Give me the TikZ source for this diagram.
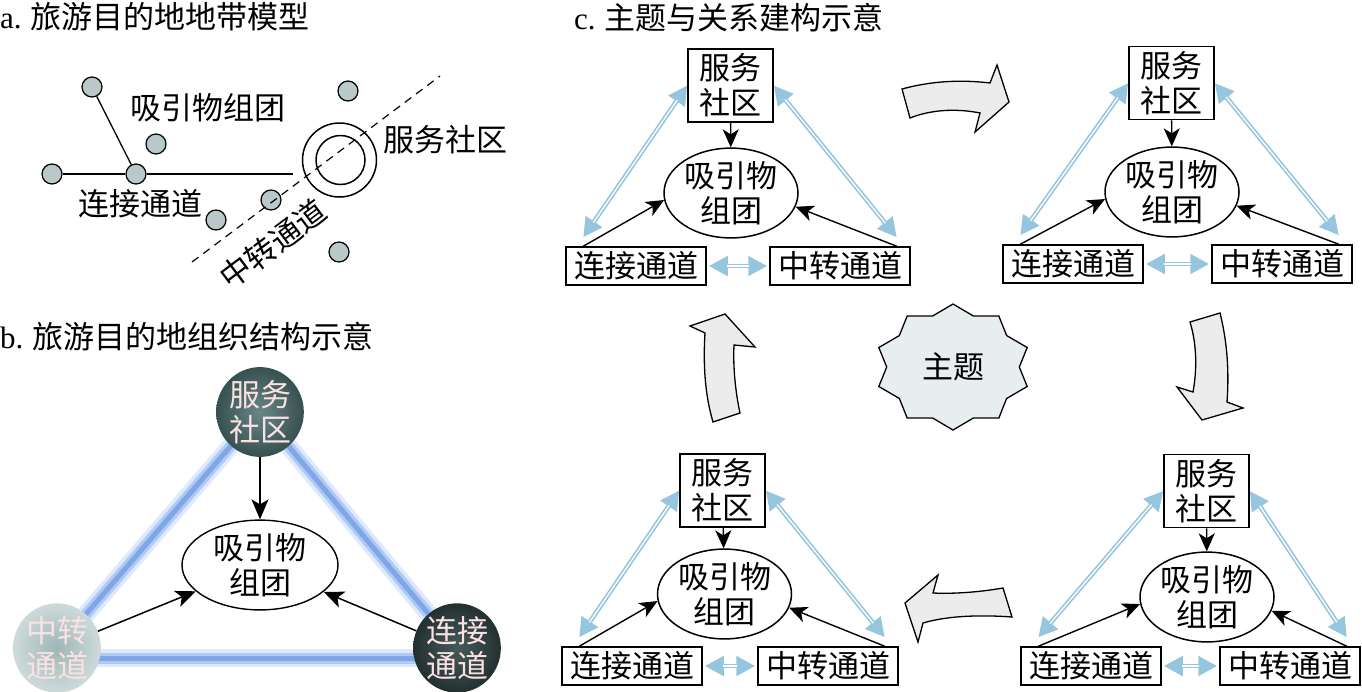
\documentclass[tikz,border=0pt]{standalone}
\usepackage{fontspec}
\setmainfont{Liberation Serif}
\newfontfamily\cjk{Noto Sans CJK SC}
\usetikzlibrary{arrows.meta,shapes.geometric,calc}
\definecolor{dotgray}{RGB}{185,200,200}
\definecolor{lblue}{RGB}{150,198,222}
\definecolor{glowA}{RGB}{222,234,252}
\definecolor{glowB}{RGB}{175,202,245}
\definecolor{glowC}{RGB}{128,166,232}
\definecolor{blockfill}{RGB}{236,236,236}
\definecolor{starfill}{RGB}{232,238,240}
\definecolor{pinkw}{RGB}{250,226,226}
% blue double arrow: #1 outer shorten, #2 inner shorten, #3 from, #4 to
\newcommand\bluearrow[4]{%
  \draw[bluebase,shorten <=#1,shorten >=#1] #3 -- #4;
  \draw[bluecore,shorten <=#2,shorten >=#2] #3 -- #4;
}
\newcommand\minidia[5]{%
  \node[svcbox] (#1s) at (#2) {服务\\社区};
  \node[attr] (#1e) at (#3) {吸引物\\组团};
  \node[chan] (#1l) at (#4) {连接通道};
  \node[chan] (#1t) at (#5) {中转通道};
  \draw[blk] (#1s) -- (#1e);
  \draw[blk] ([xshift=18pt]#1l.north west) -- (#1e.186);
  \draw[blk] ([xshift=-14pt]#1t.north east) -- (#1e.348);
  \bluearrow{0pt}{18pt}{(#1s.west)}{([xshift=18pt,yshift=9pt]#1l.north west)}
  \bluearrow{0pt}{18pt}{(#1s.east)}{([xshift=-14pt,yshift=9pt]#1t.north east)}
  \bluearrow{2pt}{20pt}{(#1l)}{(#1t)}
}
\begin{document}
\begin{tikzpicture}[x=1pt,y=-1pt,
  font=\cjk\fontsize{31}{35}\selectfont,
  dot/.style={circle,draw,line width=1.2pt,fill=dotgray,minimum size=20pt,inner sep=0pt},
  lbl/.style={inner sep=0pt,align=center},
  svcbox/.style={draw,line width=1.5pt,fill=white,minimum width=85pt,minimum height=73pt,inner sep=0pt,align=center},
  chan/.style={draw,line width=1.5pt,fill=white,minimum width=140pt,minimum height=38pt,inner sep=0pt},
  attr/.style={ellipse,draw,line width=1.5pt,fill=white,minimum width=134pt,minimum height=87pt,inner sep=0pt,align=center},
  blk/.style={line width=1.4pt,-{Stealth[length=18pt,width=16pt,inset=5pt]}},
  blkb/.style={line width=1.5pt,-{Stealth[length=20pt,width=17pt,inset=5pt]}},
  bluebase/.style={draw=lblue,line width=4.6pt,
    {Triangle[length=19pt,width=19pt]}-{Triangle[length=19pt,width=19pt]}},
  bluecore/.style={draw=white,line width=1.3pt},
  blockarrow/.style={draw,line width=1.3pt,fill=blockfill,line join=miter},
  bcirc/.style={ellipse,inner sep=0pt,minimum width=86pt,minimum height=82pt,align=center,text=pinkw}
]
\useasboundingbox (0,0) rectangle (1362,691);
\fill[white] (0,0) rectangle (1362,691);

% ---------- panel a ----------
\node[lbl,anchor=west] (ta) at (0,17) {{\rmfamily a.} 旅游目的地地带模型};
\node[dot] (a1) at (92,87) {};
\node[dot] (a2) at (156,144) {};
\node[dot] (a3) at (52,174) {};
\node[dot] (a4) at (136,174) {};
\node[dot] (a5) at (348,91) {};
\node[dot] (a6) at (271,200) {};
\node[dot] (a7) at (216,220) {};
\node[dot] (a8) at (339,252) {};
\coordinate (aend) at (293,174);
\draw[line width=1.3pt] (a1) -- (a4);
\draw[line width=1.3pt] (a3) -- (a4) -- (aend);
\node[circle,draw,line width=1.5pt,minimum size=74pt,inner sep=0pt] (aouter) at (339.5,160) {};
\node[circle,draw,line width=1.5pt,minimum size=49pt,inner sep=0pt] (ainner) at (340.5,160) {};
\coordinate (ds) at (192,262);
\coordinate (de) at (440,76);
\draw[line width=1.2pt,dash pattern=on 8pt off 6pt] (ds) -- (de);
\node[lbl] (axy) at (208,108) {吸引物组团};
\node[lbl] (alj) at (140,204) {连接通道};
\node[lbl] (afw) at (445,140) {服务社区};
\node[lbl,rotate=37] (azz) at (273,244) {中转通道};

% ---------- panel b ----------
\node[lbl,anchor=west] (tb) at (0,337) {{\rmfamily b.} 旅游目的地组织结构示意};
\coordinate (bSc) at (260,412);
\coordinate (bMc) at (57,648);
\coordinate (bCc) at (457,648);
\foreach \w/\c in {18/glowA,11/glowB,5/glowC}{
  \draw[\c,line width=\w pt,line cap=round] (bSc) -- (bMc);
  \draw[\c,line width=\w pt,line cap=round] (bSc) -- (bCc);
  \draw[\c,line width=\w pt,line cap=round] ([yshift=-10pt]bMc) -- ([yshift=-10pt]bCc);
}
\node[bcirc,minimum height=78pt,inner color={rgb,255:red,105;green,135;blue,135},outer color={rgb,255:red,55;green,80;blue,80}] (bS) at (bSc) {服务\\社区};
\node[bcirc,inner color={rgb,255:red,160;green,182;blue,182},outer color={rgb,255:red,205;green,218;blue,218}] (bM) at (bMc) {中转\\通道};
\node[bcirc,inner color={rgb,255:red,70;green,90;blue,90},outer color={rgb,255:red,35;green,48;blue,48}] (bC) at (bCc) {连接\\通道};
\node[ellipse,draw,line width=1.4pt,fill=white,minimum width=156pt,minimum height=80pt,inner sep=0pt,align=center] (bE) at (260,565) {吸引物\\组团};
\draw[blkb] (bS) -- (bE);
\draw[blkb] (bM) -- (bE);
\draw[blkb] (bC) -- (bE);

% ---------- panel c ----------
\node[lbl,anchor=west] (tc) at (574,18) {{\rmfamily c.} 主题与关系建构示意};
\minidia{TL}{730.5,85.5}{731,193}{636,266}{840,266}
\minidia{TR}{1171.5,83}{1172,192}{1073,264}{1282,264}
\minidia{BL}{722.5,490.5}{724.5,594}{632,666}{828,666}
\minidia{BR}{1206.5,491}{1207,597}{1091,666}{1290,666}

% block arrows
\draw[blockarrow] (902,89) .. controls (935,80) and (965,80) .. (990,83) -- (997,65) -- (1009,102) -- (975,132) -- (980,113) .. controls (955,108) and (930,110) .. (910,118) -- cycle;
\draw[blockarrow] (1190,322) -- (1220,313) .. controls (1228,345) and (1229,375) .. (1227,402) -- (1243,408) -- (1202,420) -- (1177,387) -- (1193,392) .. controls (1197,370) and (1197,345) .. (1190,322) -- cycle;
\draw[blockarrow] (1003,588) .. controls (980,592) and (955,594) .. (933,593) -- (938,575) -- (905,603) -- (918,642) -- (923,623) .. controls (950,615) and (985,615) .. (1012,617) -- cycle;
\draw[blockarrow] (713,422) -- (740,413) .. controls (735,390) and (733,365) .. (734,345) -- (755,347) -- (725,314) -- (690,326) -- (705,333) .. controls (703,365) and (705,395) .. (713,422) -- cycle;

% star
\draw[line width=1.3pt,fill=starfill,line join=miter,shift={(953,367)}]
  plot[samples at={0,...,19},variable=\k] ({78*(1-0.15*mod(\k,2))*cos(90+18*\k)},{63*(1-0.15*mod(\k,2))*sin(90+18*\k)}) -- cycle;
\node[lbl] (theme) at (953,367) {主题};
\end{tikzpicture}
\end{document}
